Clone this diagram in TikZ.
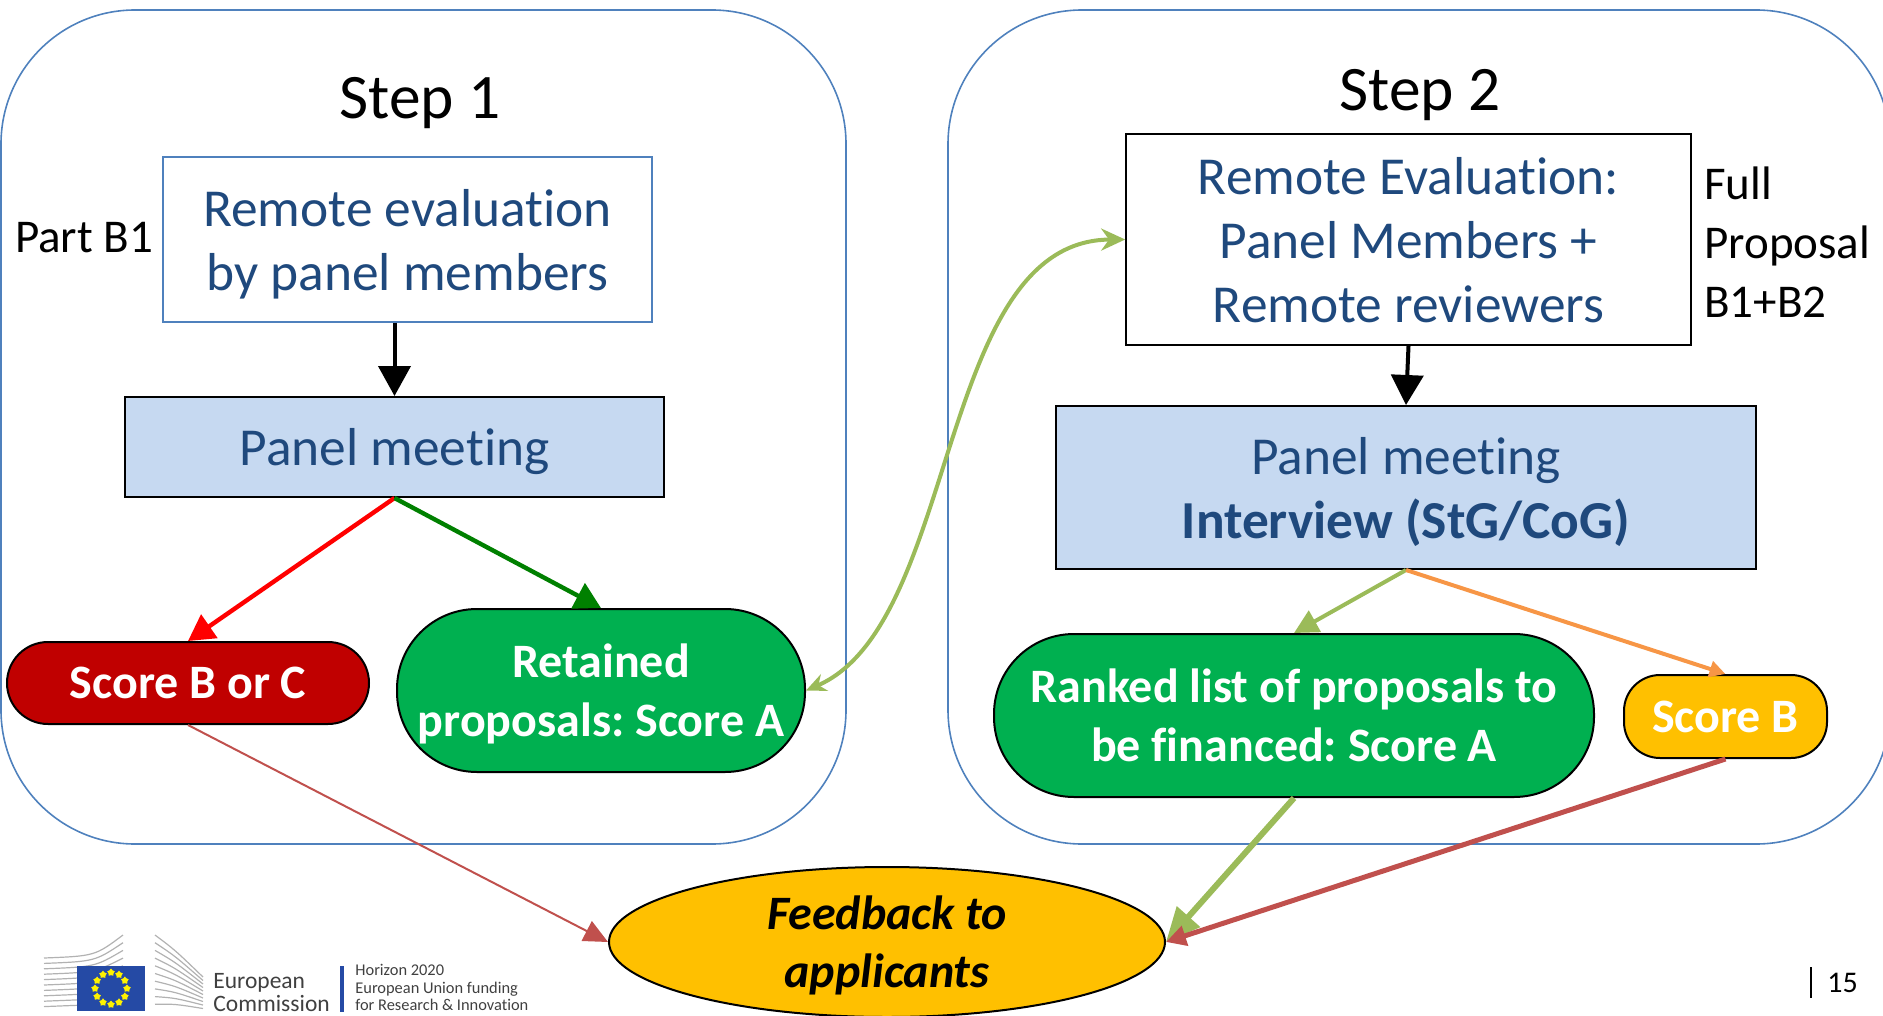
\documentclass[tikz,border=0pt]{standalone}
\usepackage{fontspec}
\setmainfont{Carlito}[Ligatures = NoCommon]
\frenchspacing
\usetikzlibrary{arrows.meta,shapes.geometric}
\definecolor{frameblue}{HTML}{4F81BD}
\definecolor{textblue}{HTML}{1F497D}
\definecolor{panelblue}{HTML}{C6D9F1}
\definecolor{scorered}{HTML}{C00000}
\definecolor{scoregreen}{HTML}{00B050}
\definecolor{scoreamber}{HTML}{FFC000}
\definecolor{olivegreen}{HTML}{9BBB59}
\definecolor{arrowred}{HTML}{C0504D}
\definecolor{arroworange}{HTML}{F79646}
\definecolor{darkgreen}{HTML}{008000}
\definecolor{flagblue}{HTML}{254AA5}
\definecolor{logogray}{HTML}{404040}
\tikzset{
  frame/.style = {draw = frameblue, line width = 0.8pt, rounded corners = 67pt},
  steptitle/.style = {font = \fontsize{31.7}{36}\selectfont, inner sep = 0, text depth = 0pt},
  sidetext/.style = {font = \fontsize{23.5}{29.5}\selectfont, inner sep = 0, align = left},
  evalbox/.style = {draw, fill = white, line width = 0.8pt, text = textblue, align = center, font = \fontsize{26.7}{32}\selectfont, inner sep = 0, text depth = 0pt},
  panelbox/.style = {draw = black, fill = panelblue, line width = 1pt, text = textblue, align = center, font = \fontsize{26.7}{32}\selectfont, inner sep = 0, text depth = 0pt},
  scorepill/.style = {draw = black, line width = 1pt, text = white, align = center, font = \bfseries\fontsize{24}{29.5}\selectfont, inner sep = 0, text depth = 0pt},
  tipbig/.style = {-{Triangle[length = 15pt, width = 16pt]}},
}
\begin{document}
\begin{tikzpicture}[x = 0.5pt, y = -0.5pt]
\useasboundingbox (0,0) rectangle (1883,1016);
\draw [frame] (1,10) rectangle (846,844);
\draw [frame] (948,10) rectangle (1890,844);
\node [steptitle] (step1) at (420,98) {Step 1};
\node [steptitle] (step2) at (1420,90) {Step 2};
\node [evalbox, draw = frameblue, minimum width = 244.5pt, minimum height = 82.5pt] (rev1) at (407.5,239.5) {Remote evaluation\\by panel members};
\node [sidetext] (partb1) at (84,238) {Part B1};
\node [panelbox, minimum width = 269.5pt, minimum height = 50pt] (pm1) at (394.5,447) {Panel meeting};
\node [scorepill, fill = scorered, rounded corners = 20.5pt, minimum width = 181pt, minimum height = 41pt] (scorebc) at (188,683) {Score B or C};
\node [scorepill, fill = scoregreen, rounded corners = 40pt, minimum width = 204pt, minimum height = 81.5pt] (retained) at (601,690.5) {Retained\\proposals: Score A};
\node [evalbox, draw = black, minimum width = 282.5pt, minimum height = 105.5pt] (rev2) at (1408.5,239.5) {Remote Evaluation:\\Panel Members +\\Remote reviewers};
\node [sidetext, anchor = west] (fullprop) at (1704,242) {Full\\Proposal\\B1+B2};
\node [panelbox, minimum width = 350pt, minimum height = 81.5pt] (pm2) at (1406,487.5) {Panel meeting\\\textbf{Interview (StG/CoG)}};
\node [scorepill, fill = scoregreen, rounded corners = 40pt, minimum width = 300pt, minimum height = 81.5pt] (ranked) at (1294,715.5) {Ranked list of proposals to\\be financed: Score A};
\node [scorepill, fill = scoreamber, rounded corners = 18pt, minimum width = 101.5pt, minimum height = 41.5pt] (scoreb) at (1725.5,716.5) {Score B};
\node [draw = black, fill = scoreamber, line width = 1pt, ellipse, minimum width = 278pt, minimum height = 75pt, inner sep = 0, text depth = 0pt, align = center, font = \bfseries\itshape\fontsize{24}{29}\selectfont] (feedback) at (887,942) {Feedback to\\applicants};
\draw [tipbig, line width = 2pt] (pm1.north |- rev1.south) -- (pm1.north);
\draw [tipbig, line width = 2pt] (rev2.south) -- (pm2.north);
\draw [-{Triangle[length = 13pt, width = 14pt]}, line width = 2.2pt, red] (pm1.south) -- (scorebc.north);
\draw [-{Triangle[length = 13pt, width = 14pt]}, line width = 2.2pt, darkgreen] (pm1.south) -- (retained.north);
\draw [-{Triangle[length = 12pt, width = 11pt]}, line width = 1pt, arrowred] (scorebc.south) -- (feedback.west);
\draw [{Stealth[length = 10pt, width = 9pt]}-{Stealth[length = 12pt, width = 11pt]}, line width = 2pt, olivegreen] (retained.east) .. controls (960,624) and (936,240) .. (rev2.west);
\draw [-{Triangle[length = 12pt, width = 12pt]}, line width = 2pt, olivegreen] (pm2.south) -- (ranked.north);
\draw [-{Triangle[length = 8pt, width = 8pt]}, line width = 2pt, arroworange] (pm2.south) -- (scoreb.north);
\draw [-{Triangle[length = 17pt, width = 15pt]}, line width = 3pt, olivegreen] (ranked.south) -- (feedback.east);
\draw [-{Triangle[length = 10pt, width = 10pt]}, line width = 2.5pt, arrowred] (scoreb.south) -- (feedback.east);
\foreach \i in {0,...,9} \draw [gray!60, line width = 0.6pt] (44,958+5.4*\i) .. controls (95,956+5.4*\i) .. (123,935+7.7*\i);
\foreach \i in {0,...,9} \draw [gray!60, line width = 0.6pt] (155,935+7.7*\i) .. controls (175,950+6*\i) .. (203,977+3.5*\i);
\fill [flagblue] (77,966) rectangle (145,1011);
\foreach \a in {0,30,...,330} \node [star, star points = 5, fill = yellow, inner sep = 0, minimum size = 4pt] at ({111+16*cos(\a)},{988.5+16*sin(\a)}) {};
\node [anchor = base west, inner sep = 0, text = logogray, font = \fontsize{11.75}{12}\selectfont] (ec) at (213,988) {European};
\node [anchor = base west, inner sep = 0, text = logogray, font = \fontsize{11.75}{12}\selectfont] (ec2) at (213,1011) {Commission};
\fill [flagblue] (340,966) rectangle (343.5,1012);
\node [anchor = base west, inner sep = 0, text = logogray, font = \fontsize{8.2}{9}\selectfont] (h1) at (355,975) {Horizon 2020};
\node [anchor = base west, inner sep = 0, text = logogray, font = \fontsize{8.2}{9}\selectfont] (h2) at (355,993.5) {European Union funding};
\node [anchor = base west, inner sep = 0, text = logogray, font = \fontsize{8.2}{9}\selectfont] (h3) at (355,1010) {for Research \& Innovation};
\draw [black, line width = 0.8pt] (1811,967) -- (1811,998);
\node [anchor = base west, inner sep = 0, font = \fontsize{15}{18}\selectfont] (pageno) at (1827,992) {15};
\end{tikzpicture}
\end{document}
